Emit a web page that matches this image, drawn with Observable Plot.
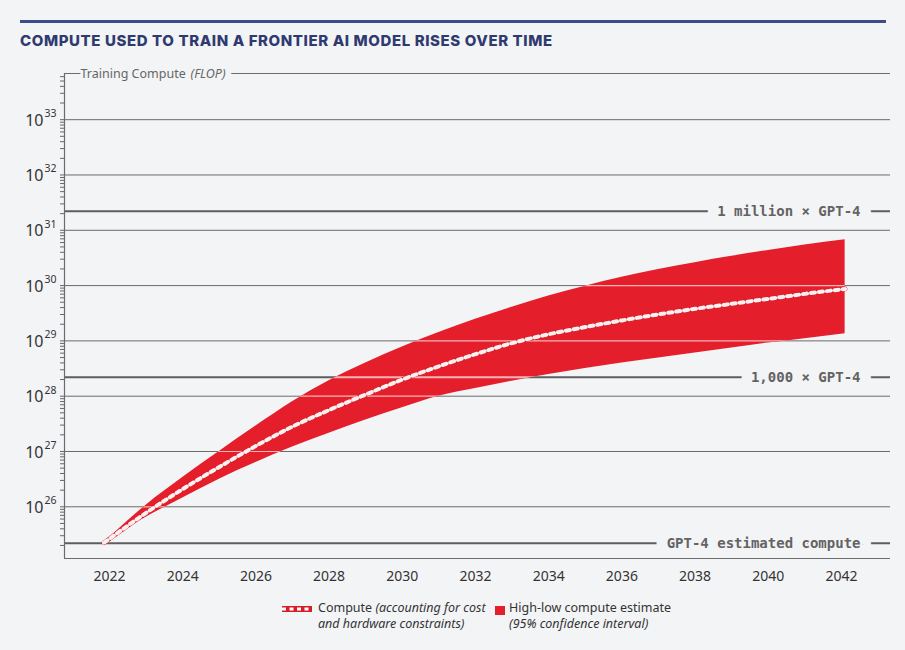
<!DOCTYPE html>
<html><head><meta charset="utf-8">
<script src="https://cdn.jsdelivr.net/npm/d3@7"></script>
<script src="https://cdn.jsdelivr.net/npm/@observablehq/plot@0.6"></script>
<style>
html,body{margin:0;padding:0;background:#f3f4f6;}
body{width:905px;height:650px;overflow:hidden;position:relative;font-family:"Noto Sans",sans-serif;}
#rule{position:absolute;left:20px;top:20px;width:866px;height:3px;background:#3e4d87;}
#title{position:absolute;left:20px;top:31px;font-family:Inter,sans-serif;font-weight:800;font-size:15px;letter-spacing:0.6px;color:#2f3a70;white-space:nowrap;line-height:20px;}
#chart{position:absolute;left:0;top:55px;}
#legend{position:absolute;top:600px;left:0;width:905px;height:40px;font-size:12.5px;color:#333;}
.item{position:absolute;line-height:16px;white-space:nowrap;}
</style></head>
<body>
<div id="rule"></div>
<div id="title">COMPUTE USED TO TRAIN A FRONTIER AI MODEL RISES OVER TIME</div>
<div id="chart"></div>
<div id="legend">
  <svg style="position:absolute;left:282px;top:6px" width="30" height="6"><rect x="0" y="0" width="30" height="6" fill="#d81c28"/><line x1="0" y1="3" x2="30" y2="3" stroke="#fff" stroke-width="3" stroke-dasharray="4,3.5"/></svg>
  <div class="item" style="left:318px;top:0">Compute <i>(accounting for cost</i><br><i>and hardware constraints)</i></div>
  <div style="position:absolute;left:495px;top:6px;width:10px;height:9px;background:#e41e2b"></div>
  <div class="item" style="left:509px;top:0">High-low compute estimate<br><i>(95% confidence interval)</i></div>
</div>
<script>
// ---- data (log10 of training compute in FLOP) ----
const years = [2021.85, 2023, 2024, 2025, 2026, 2027, 2028, 2029, 2030, 2031, 2032, 2033, 2034, 2035, 2036, 2037, 2038, 2039, 2040, 2041, 2042.1];
const highExp = [25.35, 26.03, 26.53, 27.00, 27.46, 27.90, 28.28, 28.60, 28.89, 29.15, 29.39, 29.61, 29.81, 29.99, 30.15, 30.29, 30.415, 30.53, 30.635, 30.735, 30.83];
const midExp  = [25.35, 25.89, 26.32, 26.72, 27.10, 27.45, 27.75, 28.03, 28.30, 28.54, 28.76, 28.96, 29.12, 29.25, 29.37, 29.48, 29.58, 29.67, 29.76, 29.85, 29.94];
const lowExp  = [25.35, 25.81, 26.16, 26.50, 26.80, 27.08, 27.33, 27.57, 27.79, 28.00, 28.14, 28.27, 28.39, 28.50, 28.60, 28.69, 28.78, 28.87, 28.96, 29.04, 29.13];

const gpt4Flop = 2.2e25;
const refMultipliers = [1, 1000, 1e6];
const refLabels = ["GPT-4 estimated compute", "1,000 × GPT-4", "1 million × GPT-4"];

const decadeExps = [26, 27, 28, 29, 30, 31, 32, 33];
const xTickYears = [2022, 2024, 2026, 2028, 2030, 2032, 2034, 2036, 2038, 2040, 2042];
const minorMultipliers = [1, 2, 3, 4, 5, 6, 7, 8, 9];

const yAxisTitle = "Training Compute";
const yAxisUnit = "(FLOP)";

// ---- derived tables ----
const table = years.map((year, i) => ({year, low: 10 ** lowExp[i], mid: 10 ** midExp[i], high: 10 ** highExp[i]}));
const refs = refMultipliers.map((m, i) => ({value: gpt4Flop * m, label: refLabels[i]}));
const refValues = refs.map(d => d.value);
const decadeValues = decadeExps.map(e => 10 ** e);

const yDomain = [10 ** 25.065, 10 ** 33.835];
const xDomain = [2020.77, 2043.34];
const minorTicks = [];
for (let e = 25; e <= 33; e++) for (const m of minorMultipliers) {
  const v = m * 10 ** e;
  if (v >= yDomain[0] && v <= yDomain[1]) minorTicks.push(v);
}

const BG = "#f3f4f6";
const GRID = "#6b6b6b";

const svg = Plot.plot({
  width: 905,
  height: 553,
  marginTop: 18,
  marginBottom: 50,
  marginLeft: 64,
  marginRight: 15,
  style: {background: BG, fontFamily: "Noto Sans", fontSize: "14px", color: "#333", overflow: "visible"},
  x: {domain: xDomain},
  y: {type: "log", domain: yDomain},
  marks: [
    Plot.axisX({ticks: xTickYears, tickSize: 0, tickPadding: 13, tickFormat: d => String(d), fontSize: 14, color: "#333", label: null}),
    Plot.axisY({ticks: minorTicks, tickSize: 4, tickFormat: () => "", stroke: "#666", label: null}),
    // reference lines
    Plot.ruleY(refValues, {stroke: "#5e5e5e", strokeWidth: 2}),
    // top frame line
    Plot.ruleY([yDomain[1]], {stroke: GRID, strokeWidth: 1}),
    // reference labels with halo
    Plot.text(refs, {y: "value", text: "label", frameAnchor: "right", dx: -30, textAnchor: "end",
      fontFamily: "DejaVu Sans Mono", fontWeight: "bold", fontSize: 14, fill: "#636363",
      stroke: BG, strokeWidth: 22, strokeLinejoin: "round", paintOrder: "stroke"}),
    // y axis title
    Plot.text([yAxisUnit], {text: d => d, frameAnchor: "top-left", dx: 126, textAnchor: "start", lineAnchor: "middle",
      fill: "#666", fontSize: 12.5, fontStyle: "italic", stroke: BG, strokeWidth: 12, strokeLinejoin: "round", paintOrder: "stroke"}),
    Plot.text([yAxisTitle], {text: d => d, frameAnchor: "top-left", dx: 16, textAnchor: "start", lineAnchor: "middle",
      fill: "#666", fontSize: 12.5, stroke: BG, strokeWidth: 6, strokeLinejoin: "round", paintOrder: "stroke"}),
    // gridlines & frame
    Plot.ruleY(decadeValues, {stroke: GRID, strokeWidth: 1}),
    Plot.ruleY([yDomain[0]], {stroke: GRID, strokeWidth: 1.2}),
    Plot.ruleX([xDomain[0]], {stroke: GRID, strokeWidth: 1.2}),
    // y tick labels 10^n
    Plot.text(decadeValues, {y: d => d, text: () => "10", frameAnchor: "left", dx: -21, dy: 1, textAnchor: "end", fontSize: 16, fill: "#333"}),
    Plot.text(decadeExps, {y: e => 10 ** e, text: e => String(e), frameAnchor: "left", dx: -20, dy: -6, textAnchor: "start", fontSize: 10.5, fill: "#333"}),
    // band
    Plot.areaY(table, {x: "year", y1: "low", y2: "high", fill: "#e41e2b", curve: "monotone-x", ariaDescription: "band"}),
    // pale lines seen through the band
    Plot.ruleY(decadeValues, {stroke: "#f8b4b7", strokeWidth: 1.2, ariaDescription: "bandlines"}),
    Plot.ruleY(refValues, {stroke: "#f8b4b7", strokeWidth: 2, ariaDescription: "bandlines"}),
    // median
    Plot.line(table, {x: "year", y: "mid", stroke: "#d41d29", strokeWidth: 4.6, curve: "monotone-x"}),
    Plot.line(table, {x: "year", y: "mid", stroke: "#fdf0f0", strokeWidth: 4, strokeDasharray: "4,4", curve: "monotone-x"})
  ]
});

const ns = "http://www.w3.org/2000/svg";
const bandPath = svg.querySelector('g[aria-description="band"] path');
const overlays = svg.querySelectorAll('g[aria-description="bandlines"]');
if (bandPath && overlays.length) {
  const defs = document.createElementNS(ns, "defs");
  const cp = document.createElementNS(ns, "clipPath");
  cp.setAttribute("id", "bandclip");
  cp.setAttribute("clipPathUnits", "userSpaceOnUse");
  const p = document.createElementNS(ns, "path");
  p.setAttribute("d", bandPath.getAttribute("d"));
  cp.appendChild(p);
  defs.appendChild(cp);
  svg.insertBefore(defs, svg.firstChild);
  overlays.forEach(g => {
    const wrap = document.createElementNS(ns, "g");
    wrap.setAttribute("clip-path", "url(#bandclip)");
    g.parentNode.insertBefore(wrap, g);
    wrap.appendChild(g);
  });
}
document.getElementById("chart").appendChild(svg);
</script>
</body></html>
